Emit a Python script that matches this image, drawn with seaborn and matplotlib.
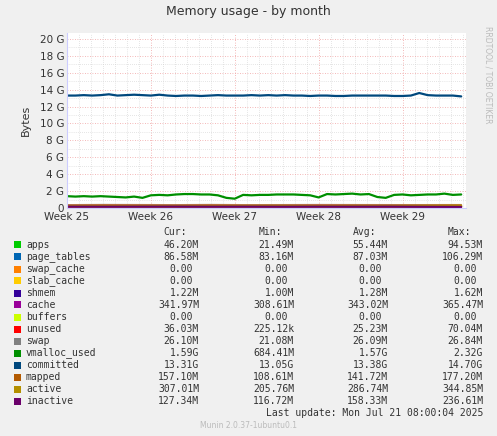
import numpy as np
import pandas as pd
import matplotlib
matplotlib.use("Agg")
import matplotlib.pyplot as plt
import seaborn as sns

sns.set_style("white")
plt.rcParams['font.family'] = ['DejaVu Sans']

G = 1e9
# main series, 48 samples across the month (days from start of Week 25)
committed = [13.3, 13.3, 13.35, 13.3, 13.35, 13.45, 13.3, 13.35, 13.4, 13.35, 13.3, 13.4, 13.3,
             13.25, 13.3, 13.3, 13.25, 13.3, 13.35, 13.3, 13.3, 13.3, 13.35, 13.3, 13.35, 13.3,
             13.35, 13.3, 13.3, 13.25, 13.3, 13.3, 13.25, 13.25, 13.3, 13.3, 13.3, 13.3, 13.3,
             13.25, 13.25, 13.3, 13.6, 13.35, 13.3, 13.3, 13.3, 13.2]
vmalloc_used = [1.4, 1.35, 1.4, 1.35, 1.4, 1.35, 1.3, 1.25, 1.35, 1.2, 1.5, 1.55, 1.5,
                1.6, 1.65, 1.65, 1.6, 1.6, 1.5, 1.2, 1.1, 1.55, 1.5, 1.55, 1.55, 1.6,
                1.6, 1.6, 1.55, 1.5, 1.25, 1.65, 1.6, 1.65, 1.7, 1.6, 1.65, 1.3, 1.2,
                1.55, 1.6, 1.5, 1.55, 1.6, 1.6, 1.7, 1.55, 1.6]
# small series, 12 samples
apps = [0.055, 0.06, 0.05, 0.055, 0.06, 0.05, 0.055, 0.05, 0.06, 0.055, 0.05, 0.046]
page_tables = [0.087, 0.087, 0.088, 0.087, 0.086, 0.087, 0.088, 0.087, 0.087, 0.087, 0.087, 0.087]
shmem = [0.0013] * 12
cache = [0.34, 0.345, 0.35, 0.34, 0.345, 0.34, 0.345, 0.35, 0.34, 0.345, 0.34, 0.342]
unused = [0.02, 0.03, 0.025, 0.02, 0.03, 0.025, 0.02, 0.03, 0.025, 0.02, 0.03, 0.036]
swap = [0.026] * 12
mapped = [0.14, 0.145, 0.14, 0.135, 0.14, 0.145, 0.14, 0.14, 0.145, 0.14, 0.15, 0.157]
active = [0.28, 0.29, 0.285, 0.28, 0.29, 0.285, 0.29, 0.28, 0.29, 0.285, 0.295, 0.307]
inactive = [0.16, 0.155, 0.16, 0.165, 0.155, 0.16, 0.15, 0.16, 0.155, 0.16, 0.14, 0.127]

week_labels = ["Week 25", "Week 26", "Week 27", "Week 28", "Week 29"]

names = ["apps", "page_tables", "swap_cache", "slab_cache", "shmem", "cache", "buffers",
         "unused", "swap", "vmalloc_used", "committed", "mapped", "active", "inactive"]
colors = ["#00CC00", "#0066B3", "#FF8000", "#FFCC00", "#330099", "#990099", "#CCFF00",
          "#FF0000", "#808080", "#008F00", "#00487D", "#B35A00", "#B38F00", "#6B006B"]
cur = ["46.20M", "86.58M", "0.00", "0.00", "1.22M", "341.97M", "0.00", "36.03M", "26.10M",
       "1.59G", "13.31G", "157.10M", "307.01M", "127.34M"]
mins = ["21.49M", "83.16M", "0.00", "0.00", "1.00M", "308.61M", "0.00", "225.12k", "21.08M",
        "684.41M", "13.05G", "108.61M", "205.76M", "116.72M"]
avgs = ["55.44M", "87.03M", "0.00", "0.00", "1.28M", "343.02M", "0.00", "25.23M", "26.09M",
        "1.57G", "13.38G", "141.72M", "286.74M", "158.33M"]
maxs = ["94.53M", "106.29M", "0.00", "0.00", "1.62M", "365.47M", "0.00", "70.04M", "26.84M",
        "2.32G", "14.70G", "177.20M", "344.85M", "236.61M"]

span = 33.25
t48 = np.linspace(0, span - 0.4, len(committed))
t12 = np.linspace(0, span - 0.4, len(apps))

fig = plt.figure(figsize=(4.97, 4.36), dpi=100, facecolor="#F0F0F0")
ax = fig.add_axes([67/497, 1-208/436, 399/497, 175/436])
ax.set_facecolor("white")

z = [0.0]*12
stack = [np.array(v)*G for v in [apps, page_tables, z, z, shmem, cache, z, unused, swap]]
ax.stackplot(t12, *stack, colors=colors[:9], linewidth=0)

df48 = pd.DataFrame({"t": t48, "vmalloc_used": np.array(vmalloc_used)*G,
                     "committed": np.array(committed)*G})
df12 = pd.DataFrame({"t": t12, "mapped": np.array(mapped)*G, "active": np.array(active)*G,
                     "inactive": np.array(inactive)*G})
sns.lineplot(data=df48, x="t", y="vmalloc_used", color=colors[9], lw=1.6, ax=ax)
sns.lineplot(data=df48, x="t", y="committed", color=colors[10], lw=1.6, ax=ax)
for n, c in zip(["mapped", "active", "inactive"], colors[11:]):
    sns.lineplot(data=df12, x="t", y=n, color=c, lw=1.6, ax=ax, dashes=False)

ax.set_xlim(0, span)
ax.set_ylim(0, 20.7*G)
ax.set_yticks(np.arange(0, 21, 2)*G)
ax.set_yticklabels(["0"] + [f"{v} G" for v in range(2, 21, 2)], fontsize=7.5, color="#333333")
ax.set_yticks(np.arange(0, 21, 1)*G, minor=True)
ax.set_xticks(np.arange(0, 33, 7))
ax.set_xticklabels(week_labels, fontsize=7.5, color="#333333")
ax.set_xticks(np.arange(0, 34, 1), minor=True)
ax.grid(which="minor", color="#cccccc", ls=(0, (1, 2)), lw=0.5)
ax.grid(which="major", color="#f0a0a0", ls=(0, (1, 2)), lw=0.6)
ax.set_axisbelow(True)
ax.set_xlabel("")
ax.set_ylabel("Bytes", fontsize=8, color="#333333", labelpad=6)
ax.tick_params(axis="y", length=0, pad=2)
ax.tick_params(axis="x", length=0, pad=3)
for lbl in ax.get_xticklabels():
    lbl.set_fontsize(7.5)
for s in ["top", "right"]:
    ax.spines[s].set_visible(False)
for s in ["left", "bottom"]:
    ax.spines[s].set_color("#ccccff")

fig.text(0.5, 1-11/436, "Memory usage - by month", ha="center", va="center", fontsize=9, color="#333333")
fig.text(488/497, 1-75/436, "RRDTOOL / TOBI OETIKER", rotation=270, ha="center", va="center",
         fontsize=5.5, color="#bbbbbb")

mono = "DejaVu Sans Mono"
fs = 7
colx = [199, 294, 388, 483]
for x, h in zip(colx, ["Cur:", "Min:", "Avg:", "Max:"]):
    fig.text((x-12)/497, 1-232/436, h, ha="right", va="center", fontsize=fs, family=mono, color="#333333")
for i, n in enumerate(names):
    y = 1-(245+12*i)/436
    fig.patches.append(plt.Rectangle((14/497, y-3.5/436), 7/497, 7/436, transform=fig.transFigure,
                                     facecolor=colors[i], edgecolor="none"))
    fig.text(26/497, y, n, ha="left", va="center", fontsize=fs, family=mono, color="#333333")
    for x, v in zip(colx, [cur[i], mins[i], avgs[i], maxs[i]]):
        if v == "0.00":
            x -= 6
        fig.text(x/497, y, v, ha="right", va="center", fontsize=fs, family=mono, color="#333333")
fig.text(483/497, 1-413/436, "Last update: Mon Jul 21 08:00:04 2025", ha="right", va="center",
         fontsize=fs, family=mono, color="#333333")
fig.text(0.5, 1-425/436, "Munin 2.0.37-1ubuntu0.1", ha="center", va="center", fontsize=5.5, color="#bbbbbb")

fig.savefig("out.png", dpi=100, facecolor=fig.get_facecolor())
